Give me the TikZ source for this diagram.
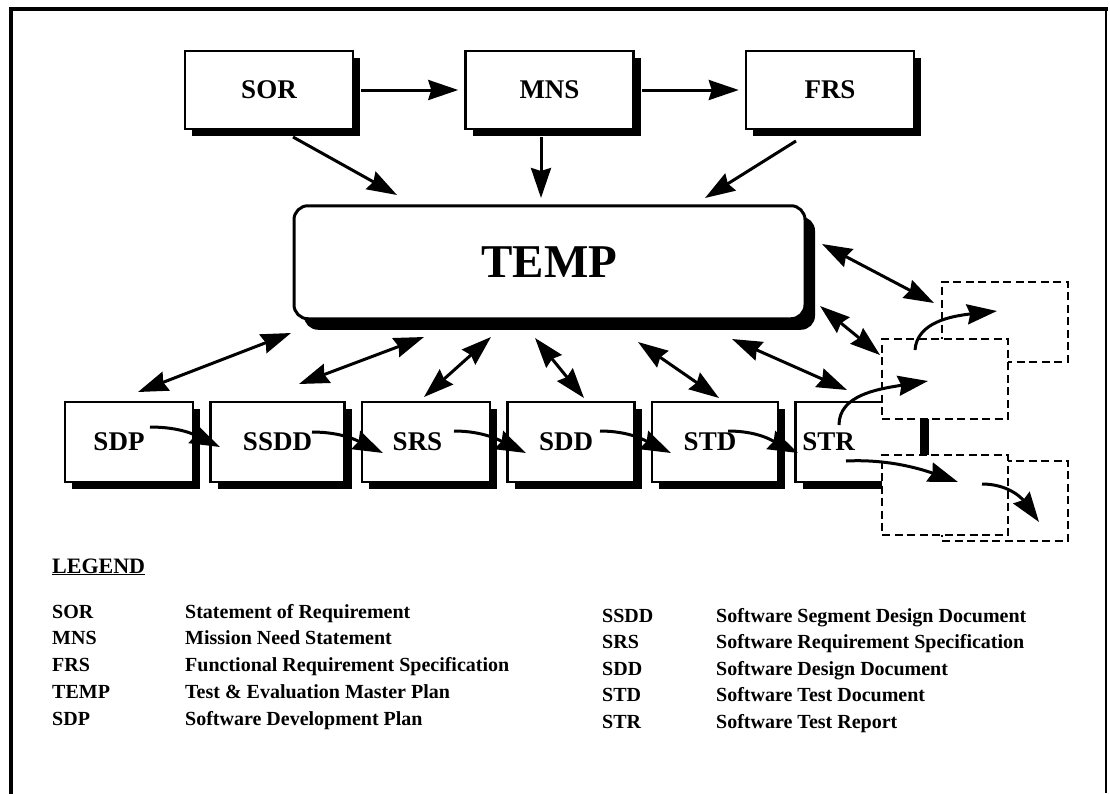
\documentclass[tikz,border=0pt]{standalone}
\usepackage{fontspec}
\setmainfont{Liberation Serif}
\usetikzlibrary{arrows.meta,positioning,shadows,calc}

\begin{document}
\begin{tikzpicture}[
    x=1pt,y=-1pt,
    node distance=110pt,
    every node/.style={align=center,font=\bfseries},
    doc/.style={rectangle,draw=black,fill=white,line width=2.5pt,minimum width=168pt,minimum height=78pt,
        font=\fontsize{27}{32}\selectfont\bfseries,
        drop shadow={shadow xshift=7pt,shadow yshift=-7pt,fill=black,opacity=1}},
    plan/.style={rectangle,rounded corners=14pt,draw=black,fill=white,line width=3pt,minimum width=511pt,minimum height=113pt,
        font=\fontsize{47}{56}\selectfont\bfseries,
        drop shadow={shadow xshift=10pt,shadow yshift=-11pt,fill=black,opacity=1}},
    sdoc/.style={doc,minimum width=128pt,minimum height=80pt},
    ghost/.style={rectangle,draw=black,fill=white,dash pattern=on 8pt off 4.5pt,line width=2pt,minimum width=126pt,minimum height=80pt},
    legend/.style={anchor=base west,inner sep=0pt,font=\fontsize{20}{24}\selectfont\bfseries},
    arrow/.style={-{Stealth[length=30pt,width=20pt,inset=3pt]},line width=3pt},
    twoway/.style={{Stealth[length=30pt,width=20pt,inset=3pt]}-{Stealth[length=30pt,width=20pt,inset=3pt]},line width=3pt}
]
\useasboundingbox (0,0) rectangle (1110,793);

% frame
\draw[line width=4.5pt,line cap=rect] (11,793) -- (11,9) -- (1106,9);
\draw[line width=1.8pt] (1106,9) -- (1106,793);

% =====================
% TOP ROW
% =====================
\node[doc] (sor) at (269,90) {SOR};
\node[doc,right=of sor] (mns) {MNS};
\node[doc,right=of mns] (frs) {FRS};

\node[plan,below=74pt of mns] (temp) {TEMP};

\draw[arrow,shorten <=7pt,shorten >=6pt] (sor) -- (mns);
\draw[arrow,shorten <=7pt,shorten >=6pt] (mns) -- (frs);

\draw[arrow] ($(sor)+(24,47)$) -- ($(temp)+(-152.5,-67.25)$);
\draw[arrow] ($(mns)+(-8.5,47)$) -- ($(temp)+(-8.5,-64.25)$);
\draw[arrow] ($(frs)+(-34,51)$) -- ($(temp)+(155.5,-64.25)$);

% =====================
% BOTTOM ROW
% =====================
\node[sdoc] (sdp) at (129,442) {SDP\hspace*{20pt}};
\node[sdoc,minimum width=134pt,right=15pt of sdp] (ssdd) {SSDD};
\node[sdoc,right=15pt of ssdd] (srs) {SRS\hspace*{17pt}};
\node[sdoc,minimum width=127pt,right=15pt of srs] (sdd) {SDD\hspace*{10pt}};
\node[sdoc,minimum width=126pt,right=15pt of sdd] (std) {STD\hspace*{10pt}};
\node[sdoc,minimum width=126pt,right=15pt of std] (str) {STR\hspace*{60pt}};

% next documents
\node[ghost] (nextB) at (1004.5,321.5) {};
\node[ghost] (nextD) at (1005,500.5) {};
\node[ghost] (nextA) at (945,379) {};
\node[ghost] (nextC) at (945,495) {};

% TEMP links
\draw[twoway] ($(sdp)+(9,-50)$) -- ($(temp)+(-258.5,70.75)$);
\draw[twoway] ($(ssdd)+(21.5,-58)$) -- ($(temp)+(-125.5,74.75)$);
\draw[twoway] ($(srs)+(-2,-45)$) -- ($(temp)+(-58.5,74.75)$);
\draw[twoway] ($(sdd)+(13,-44)$) -- ($(temp)+(-14.5,75.75)$);
\draw[twoway] ($(std)+(4,-44)$) -- ($(temp)+(88.5,79.75)$);
\draw[twoway] ($(str)+(-11.5,-52)$) -- ($(temp)+(182.5,76.75)$);
\draw[twoway] ($(nextA)+(-65,-24)$) -- ($(temp)+(270.5,43.75)$);
\draw[twoway] ($(nextB)+(-70.5,-18.5)$) -- ($(temp)+(272.5,-18.25)$);

% document flow
\foreach \a/\b/\sx/\sy/\ex/\ey in {sdp/ssdd/21/-15/-57.5/5, ssdd/srs/34.5/-10/-43/11,
    srs/sdd/28/-11/-45/11, sdd/std/29/-11/-44/11, std/str/13/-11/-60.5/11}
  \draw[arrow] ($(\a)+(\sx,\sy)$) .. controls +(30,0) and +(-25,-12) .. ($(\b)+(\ex,\ey)$);

\draw[arrow] ($(str)+(-19.5,-17)$) .. controls +(0,-30) and +(-50,8) .. ($(nextA)+(-17,2)$);
\draw[arrow] ($(nextA)+(-30,-29)$) .. controls +(2,-28) and +(-45,5) .. ($(nextB)+(-7.5,-10.5)$);
\draw[arrow] ($(str)+(-12.5,19)$) .. controls +(40,-2) and +(-40,-14) .. ($(nextC)+(13,-13)$);
\draw[arrow] ($(nextC)+(37,-11)$) .. controls +(25,0) and +(-18,-25) .. ($(nextD)+(34,21.5)$);

% =====================
% LEGEND
% =====================
\node[legend,font=\fontsize{22}{26}\selectfont\bfseries] (legendtitle) at (52,573) {\underline{LEGEND}};

\foreach \abbr/\desc [count=\i] in {SOR/Statement of Requirement, MNS/Mission Need Statement,
    FRS/Functional Requirement Specification, TEMP/Test \& Evaluation Master Plan,
    SDP/Software Development Plan}
{
  \node[legend] (abbl\i) at (52,591.25+26.75*\i) {\abbr};
  \node[legend] (descl\i) at (185,591.25+26.75*\i) {\desc};
}

\foreach \abbr/\desc [count=\i] in {SSDD/Software Segment Design Document, SRS/Software Requirement Specification,
    SDD/Software Design Document, STD/Software Test Document, STR/Software Test Report}
{
  \node[legend] (abbr\i) at (602,595.5+26.5*\i) {\abbr};
  \node[legend] (descr\i) at (716,595.5+26.5*\i) {\desc};
}

\end{tikzpicture}
\end{document}
